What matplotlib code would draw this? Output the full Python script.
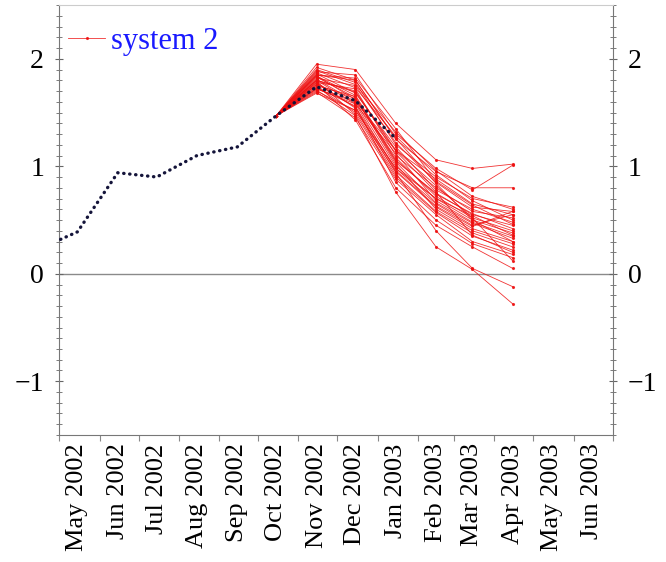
import datetime as dt
import matplotlib
matplotlib.use("Agg")
import matplotlib.pyplot as plt
import matplotlib.dates as mdates
from matplotlib.ticker import MultipleLocator

# observed series (dotted line)
obs_dates = [dt.date(2002, 5, 2), dt.date(2002, 5, 15), dt.date(2002, 6, 15), dt.date(2002, 7, 15),
             dt.date(2002, 8, 15), dt.date(2002, 9, 15), dt.date(2002, 10, 15), dt.date(2002, 11, 15),
             dt.date(2002, 12, 15), dt.date(2003, 1, 15)]
obs_values = [0.32, 0.39, 0.94, 0.90, 1.10, 1.18, 1.47, 1.74, 1.61, 1.26]

# forecast members start from Oct 2002
fc_dates = [dt.date(2002, 10, 15), dt.date(2002, 11, 15), dt.date(2002, 12, 15), dt.date(2003, 1, 15),
            dt.date(2003, 2, 15), dt.date(2003, 3, 15), dt.date(2003, 4, 15)]
fc_start = 1.47
members = [
    [1.95, 1.90, 1.40, 1.06, 0.98, 1.02],
    [1.88, 1.85, 1.30, 0.98, 0.78, 1.01],
    [1.85, 1.80, 1.25, 0.95, 0.80, 0.80],
    [1.90, 1.78, 1.20, 0.90, 0.70, 0.62],
    [1.82, 1.75, 1.22, 0.85, 0.62, 0.58],
    [1.80, 1.70, 1.15, 0.88, 0.65, 0.55],
    [1.78, 1.72, 1.10, 0.80, 0.58, 0.52],
    [1.86, 1.68, 1.18, 0.78, 0.60, 0.48],
    [1.75, 1.65, 1.05, 0.75, 0.55, 0.45],
    [1.84, 1.62, 1.08, 0.72, 0.52, 0.40],
    [1.72, 1.60, 1.00, 0.70, 0.50, 0.38],
    [1.80, 1.58, 1.12, 0.68, 0.48, 0.35],
    [1.77, 1.55, 0.98, 0.65, 0.45, 0.55],
    [1.70, 1.52, 0.95, 0.62, 0.42, 0.30],
    [1.83, 1.64, 1.02, 0.60, 0.40, 0.28],
    [1.74, 1.50, 0.92, 0.58, 0.38, 0.25],
    [1.79, 1.48, 0.90, 0.57, 0.35, 0.22],
    [1.69, 1.45, 0.88, 0.55, 0.30, 0.18],
    [1.81, 1.60, 1.15, 0.82, 0.52, 0.12],
    [1.73, 1.56, 0.85, 0.50, 0.28, 0.15],
    [1.76, 1.43, 0.80, 0.45, 0.25, 0.05],
    [1.71, 1.47, 0.76, 0.25, 0.04, -0.28],
    [1.78, 1.54, 0.94, 0.40, 0.05, -0.12],
    [1.87, 1.73, 1.28, 0.92, 0.68, 0.50],
    [1.89, 1.76, 1.32, 0.96, 0.72, 0.60],
    [1.84, 1.66, 1.06, 0.74, 0.56, 0.42],
    [1.76, 1.63, 1.04, 0.66, 0.47, 0.33],
    [1.72, 1.58, 0.96, 0.63, 0.44, 0.58],
    [1.80, 1.69, 1.14, 0.76, 0.36, 0.20],
    [1.85, 1.82, 1.35, 0.86, 0.64, 0.46],
    [1.68, 1.52, 0.98, 0.70, 0.54, 0.36],
    [1.92, 1.80, 1.26, 0.84, 0.50, 0.30],
]

month_labels = ["May 2002", "Jun 2002", "Jul 2002", "Aug 2002", "Sep 2002", "Oct 2002", "Nov 2002",
                "Dec 2002", "Jan 2003", "Feb 2003", "Mar 2003", "Apr 2003", "May 2003", "Jun 2003"]

plt.rcParams['font.family'] = ['Liberation Serif', 'DejaVu Serif']

fig = plt.figure(figsize=(6.66, 5.62), dpi=100)
ax = fig.add_axes([0.089, 0.226, 0.831, 0.765])

for i, m in enumerate(members):
    ax.plot(fc_dates, [fc_start] + m, color='#ee1010', lw=0.6, alpha=0.85,
            marker='.', markersize=2.5, zorder=2, label='system 2' if i == 0 else None)

ax.plot(obs_dates, obs_values, color='#14143a', lw=2.4, linestyle=(0, (0.1, 1.7)),
        dash_capstyle='round', zorder=3)

ax.axhline(0, color='#8a8a8a', lw=1, zorder=1)

ax.set_xlim(dt.date(2002, 5, 1), dt.date(2003, 7, 1))
ax.set_ylim(-1.5, 2.5)

# month boundaries as ticks, labels in the middle of each month
ax.xaxis.set_major_locator(mdates.MonthLocator())
ax.xaxis.set_major_formatter(plt.NullFormatter())
mid = [mdates.date2num(dt.date(2002 + (4 + k) // 12, (4 + k) % 12 + 1, 15)) for k in range(14)]
ax.set_xticks(mid, minor=True)
ax.set_xticklabels(month_labels, minor=True, rotation=90, fontsize=19)
ax.tick_params(axis='x', which='major', direction='out', length=4, color='#888888')
ax.tick_params(axis='x', which='minor', length=0, pad=6)

ax.yaxis.set_major_locator(MultipleLocator(1))
ax.yaxis.set_minor_locator(MultipleLocator(0.1))
ax.tick_params(axis='y', which='both', left=True, right=True, labelleft=True, labelright=True,
               direction='inout', color='#666666', labelsize=20)
ax.tick_params(axis='y', which='major', length=6, pad=8)
ax.tick_params(axis='y', which='minor', length=4)

for side in ['left', 'right', 'bottom']:
    ax.spines[side].set_color('#777777')
ax.spines['top'].set_color('#cccccc')

leg = ax.legend(loc='upper left', bbox_to_anchor=(0.0, 0.97), frameon=False, fontsize=22,
                handlelength=1.2, handletextpad=0.2, borderaxespad=0.1, borderpad=0.2)
for t in leg.get_texts():
    t.set_color('#1a1aff')

fig.savefig('out.png', dpi=100)
